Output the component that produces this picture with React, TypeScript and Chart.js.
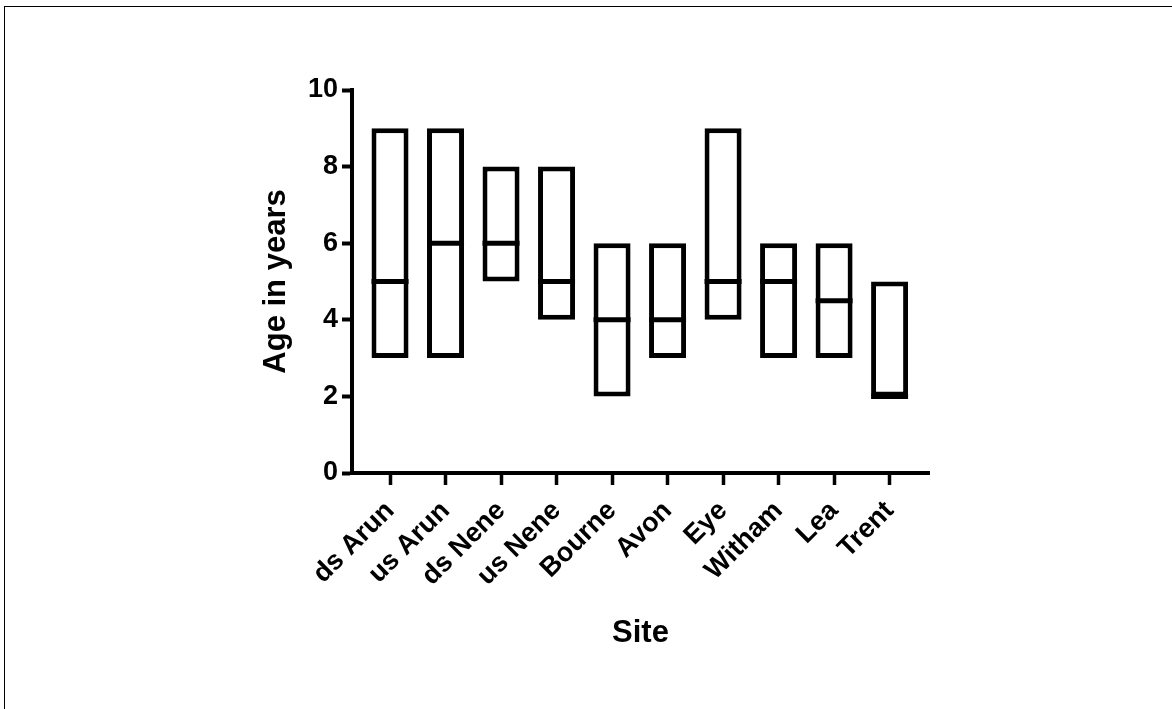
import React, { useEffect, useRef } from "react";
import { Chart, registerables } from "chart.js";

Chart.register(...registerables);

const sites = ["ds Arun", "us Arun", "ds Nene", "us Nene", "Bourne", "Avon", "Eye", "Witham", "Lea", "Trent"];
const minAge = [3, 3, 5, 4, 2, 3, 4, 3, 3, 2];
const maxAge = [9, 9, 8, 8, 6, 6, 9, 6, 6, 5];
const medianAge = [5, 6, 6, 5, 4, 4, 5, 5, 4.5, 2];
const yTickValues = [0, 2, 4, 6, 8, 10];

const FONT = "'Liberation Sans', Arial, Helvetica, sans-serif";

export default function App() {
  const canvasRef = useRef<HTMLCanvasElement | null>(null);

  useEffect(() => {
    const canvas = canvasRef.current;
    if (!canvas) return;
    const rangeData = sites.map((_, i) => ({ x: i, y: [minAge[i], maxAge[i]] }));
    const medianData = sites.map((_, i) => ({ x: i, y: medianAge[i] }));

    const chart = new Chart(canvas, {
      type: "bar",
      data: {
        datasets: [
          {
            type: "bar",
            label: "Range",
            data: rangeData as any,
            backgroundColor: "#ffffff",
            borderColor: "#000000",
            borderWidth: 5,
            borderSkipped: false,
            barPercentage: 0.667,
            categoryPercentage: 1,
            order: 2,
          } as any,
          {
            type: "line",
            label: "Median",
            data: medianData as any,
            showLine: false,
            pointStyle: "line",
            pointRadius: 18.5,
            pointHoverRadius: 18.5,
            pointBorderWidth: 5,
            pointHoverBorderWidth: 5,
            pointBorderColor: "#000000",
            borderColor: "#000000",
            order: 1,
          } as any,
        ],
      },
      options: {
        responsive: false,
        animation: false,
        devicePixelRatio: 1,
        layout: { padding: { left: 252, right: 243, top: 90, bottom: 56 } },
        plugins: { legend: { display: false }, tooltip: { enabled: false } },
        scales: {
          x: {
            type: "linear",
            min: -0.685,
            max: 9.71,
            offset: false,
            afterBuildTicks: (scale: any) => {
              scale.ticks = sites.map((_, i) => ({ value: i }));
            },
            afterFit: (scale: any) => {
              scale.height = 180;
            },
            grid: {
              display: true,
              offset: false,
              drawOnChartArea: false,
              drawTicks: true,
              tickLength: 12,
              tickWidth: 3.5,
              tickColor: "#000000",
            },
            border: { display: true, width: 4, color: "#000000" },
            ticks: {
              autoSkip: false,
              maxRotation: 45,
              minRotation: 45,
              padding: 10,
              color: "#000000",
              font: { family: FONT, size: 27, weight: "bold" },
              callback: (v: any) => sites[Math.round(Number(v))] ?? "",
            },
            title: {
              display: true,
              text: "Site",
              color: "#000000",
              font: { family: FONT, size: 31, weight: "bold" },
              padding: { top: 0, bottom: 1 },
            },
          },
          y: {
            type: "linear",
            min: 0,
            max: 10,
            afterBuildTicks: (scale: any) => {
              scale.ticks = yTickValues.map((v) => ({ value: v }));
            },
            afterFit: (scale: any) => {
              scale.width = 100;
            },
            grid: {
              display: true,
              drawOnChartArea: false,
              drawTicks: true,
              tickLength: 10,
              tickWidth: 4,
              tickColor: "#000000",
            },
            border: { display: true, width: 4, color: "#000000" },
            ticks: {
              padding: 4,
              color: "#000000",
              font: { family: FONT, size: 27, weight: "bold" },
            },
            title: {
              display: true,
              text: "Age in years",
              color: "#000000",
              font: { family: FONT, size: 31, weight: "bold" },
              padding: { top: 6, bottom: 0 },
            },
          },
        },
      } as any,
    });

    return () => {
      chart.destroy();
    };
  }, []);

  return (
    <div
      style={{
        position: "fixed",
        left: 0,
        top: 0,
        width: 1172,
        height: 709,
        overflow: "hidden",
        background: "#ffffff",
      }}
    >
      <div
        style={{
          position: "absolute",
          left: 4,
          top: 6,
          width: 1300,
          height: 900,
          border: "1px solid #000000",
          boxSizing: "border-box",
        }}
      />
      <canvas
        ref={canvasRef}
        width={1172}
        height={709}
        style={{ position: "absolute", left: 0, top: 0, width: 1172, height: 709 }}
      />
    </div>
  );
}
